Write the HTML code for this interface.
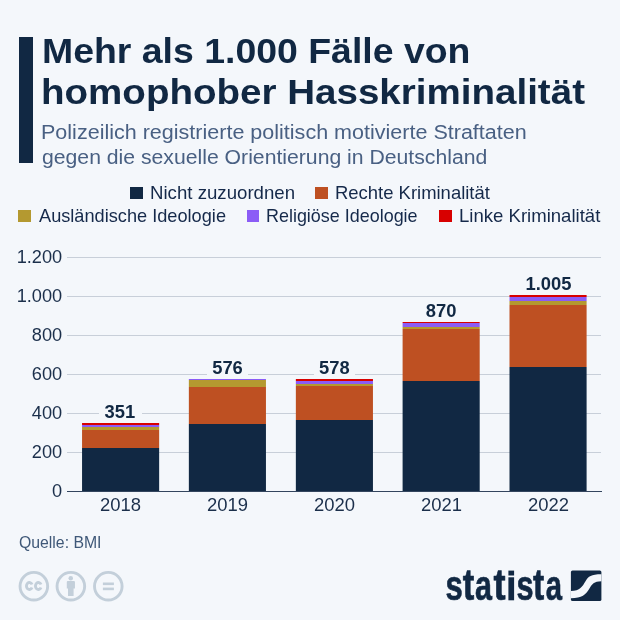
<!DOCTYPE html>
<html lang="de">
<head>
<meta charset="utf-8">
<title>Mehr als 1.000 Fälle von homophober Hasskriminalität</title>
<style>
  html, body { margin: 0; padding: 0; }
  body {
    width: 620px; height: 620px; overflow: hidden;
    background: #f4f7fb;
    font-family: "Liberation Sans", sans-serif;
    color: #112843;
    position: relative;
  }
  #wrap { position: absolute; left: 0; top: 0; width: 620px; height: 620px; overflow: hidden; will-change: transform; transform: translateZ(0); }
  .abs { position: absolute; white-space: nowrap; }
  .accent { left: 19px; top: 37px; width: 14px; height: 126px; background: #112843; }
  .title { left: 43px; font-weight: bold; font-size: 35px; line-height: 41px; color: #112843; transform-origin: 0 0; }
  .sub { left: 43px; font-size: 19.5px; line-height: 25px; color: #496083; transform-origin: 0 0; }
  .leg { font-size: 17.8px; line-height: 20px; color: #15294a; transform-origin: 0 0; }
  .sw { position: absolute; width: 12.9px; height: 12.4px; }
  .src { left: 19px; top: 532.6px; font-size: 16px; line-height: 20px; color: #3f5878; transform-origin: 0 0; }
</style>
</head>
<body>
<div id="wrap">

<div class="abs accent"></div>

<div class="abs title" id="t1" style="top:30px; left:41.6px; transform:scaleX(1.0691);">Mehr als 1.000 Fälle von</div>
<div class="abs title" id="t2" style="top:71px; left:41.2px; transform:scaleX(1.1012);">homophober Hasskriminalität</div>

<div class="abs sub" id="s1" style="top:119.6px; left:41.4px; transform:scaleX(1.1039);">Polizeilich registrierte politisch motivierte Straftaten</div>
<div class="abs sub" id="s2" style="top:144.8px; left:41.50px; transform:scaleX(1.0866);">gegen die sexuelle Orientierung in Deutschland</div>

<!-- legend -->
<div class="sw" style="left:129.7px; top:186.8px; background:#112843;"></div>
<div class="abs leg" id="l1" style="left:149.55px; top:182.7px; transform:scaleX(1.0482);">Nicht zuzuordnen</div>
<div class="sw" style="left:315.2px; top:186.8px; background:#be5022;"></div>
<div class="abs leg" id="l2" style="left:335.06px; top:182.7px; transform:scaleX(1.0378);">Rechte Kriminalität</div>

<div class="sw" style="left:18.4px; top:209.7px; background:#b49930;"></div>
<div class="abs leg" id="l3" style="left:38.7px; top:205.7px; transform:scaleX(1.0225);">Ausländische Ideologie</div>
<div class="sw" style="left:246.5px; top:209.7px; background:#8b5cf6;"></div>
<div class="abs leg" id="l4" style="left:265.79px; top:205.7px; transform:scaleX(1.0087);">Religiöse Ideologie</div>
<div class="sw" style="left:438.7px; top:209.7px; background:#d80000;"></div>
<div class="abs leg" id="l5" style="left:458.66px; top:205.7px; transform:scaleX(1.0437);">Linke Kriminalität</div>

<!-- chart -->
<svg class="abs" style="left:0; top:0;" width="620" height="620" viewBox="0 0 620 620">
  <g stroke="#c8cfd9" stroke-width="1" shape-rendering="crispEdges">
    <line x1="67" x2="601" y1="257.5" y2="257.5"/>
    <line x1="67" x2="601" y1="296.5" y2="296.5"/>
    <line x1="67" x2="601" y1="335.5" y2="335.5"/>
    <line x1="67" x2="601" y1="374.5" y2="374.5"/>
    <line x1="67" x2="601" y1="413.5" y2="413.5"/>
    <line x1="67" x2="601" y1="452.5" y2="452.5"/>
  </g>

  <!-- label masks -->
  <g fill="#f4f7fb">
    <rect x="99" y="400" width="43" height="20"/>
    <rect x="207" y="356" width="41" height="20"/>
    <rect x="314" y="356" width="41" height="20"/>
    <rect x="420" y="299" width="42" height="20"/>
    <rect x="519" y="272" width="58" height="20"/>
  </g>

  <!-- bars -->
  <g>
    <!-- 2018 -->
    <rect x="82.05" y="423" width="77.1" height="2" fill="#d80000"/>
    <rect x="82.05" y="425" width="77.1" height="2" fill="#8b5cf6"/>
    <rect x="82.05" y="427" width="77.1" height="3" fill="#b49930"/>
    <rect x="82.05" y="430" width="77.1" height="18" fill="#be5022"/>
    <rect x="82.05" y="448" width="77.1" height="43" fill="#112843"/>
    <!-- 2019 -->
    <rect x="188.85" y="379" width="77.1" height="1" fill="#8b5cf6"/>
    <rect x="188.85" y="380" width="77.1" height="7" fill="#b49930"/>
    <rect x="188.85" y="387" width="77.1" height="37" fill="#be5022"/>
    <rect x="188.85" y="424" width="77.1" height="67" fill="#112843"/>
    <!-- 2020 -->
    <rect x="295.85" y="379" width="77.1" height="2" fill="#d80000"/>
    <rect x="295.85" y="381" width="77.1" height="3" fill="#8b5cf6"/>
    <rect x="295.85" y="384" width="77.1" height="2" fill="#b49930"/>
    <rect x="295.85" y="386" width="77.1" height="34" fill="#be5022"/>
    <rect x="295.85" y="420" width="77.1" height="71" fill="#112843"/>
    <!-- 2021 -->
    <rect x="402.6" y="322" width="77.1" height="1" fill="#d80000"/>
    <rect x="402.6" y="323" width="77.1" height="4" fill="#8b5cf6"/>
    <rect x="402.6" y="327" width="77.1" height="2" fill="#b49930"/>
    <rect x="402.6" y="329" width="77.1" height="52" fill="#be5022"/>
    <rect x="402.6" y="381" width="77.1" height="110" fill="#112843"/>
    <!-- 2022 -->
    <rect x="509.5" y="295" width="77.1" height="2" fill="#d80000"/>
    <rect x="509.5" y="297" width="77.1" height="4" fill="#8b5cf6"/>
    <rect x="509.5" y="301" width="77.1" height="4" fill="#b49930"/>
    <rect x="509.5" y="305" width="77.1" height="62" fill="#be5022"/>
    <rect x="509.5" y="367" width="77.1" height="124" fill="#112843"/>
  </g>

  <!-- axis -->
  <line x1="67" x2="601.8" y1="491.5" y2="491.5" stroke="#33455e" stroke-width="1" shape-rendering="crispEdges"/>

  <!-- y labels -->
  <g font-family="Liberation Sans, sans-serif" font-size="17.5" fill="#1b2f4b" text-anchor="end" transform="translate(62.2,0) scale(1.04,1) translate(-62.2,0)">
    <text x="62.2" y="263">1.200</text>
    <text x="62.2" y="302">1.000</text>
    <text x="62.2" y="341">800</text>
    <text x="62.2" y="380">600</text>
    <text x="62.2" y="419">400</text>
    <text x="62.2" y="458">200</text>
    <text x="62.2" y="497">0</text>
  </g>
  <!-- x labels -->
  <g font-family="Liberation Sans, sans-serif" font-size="17.5" fill="#1b2f4b" text-anchor="middle">
    <text x="0" y="511" transform="translate(120.5,0) scale(1.054,1)">2018</text>
    <text x="0" y="511" transform="translate(227.5,0) scale(1.054,1)">2019</text>
    <text x="0" y="511" transform="translate(334.5,0) scale(1.054,1)">2020</text>
    <text x="0" y="511" transform="translate(441.5,0) scale(1.054,1)">2021</text>
    <text x="0" y="511" transform="translate(548.5,0) scale(1.054,1)">2022</text>
  </g>
  <!-- value labels -->
  <g font-family="Liberation Sans, sans-serif" font-size="17.5" font-weight="bold" fill="#112843" text-anchor="middle">
    <text x="0" y="417.9" transform="translate(119.9,0) scale(1.05,1)">351</text>
    <text x="0" y="374" transform="translate(227.5,0) scale(1.05,1)">576</text>
    <text x="0" y="374" transform="translate(334.4,0) scale(1.05,1)">578</text>
    <text x="0" y="317" transform="translate(441.2,0) scale(1.05,1)">870</text>
    <text x="0" y="290" transform="translate(548.5,0) scale(1.05,1)">1.005</text>
  </g>

  <!-- CC icons -->
  <g fill="none" stroke="#c3cfda" stroke-width="2.9">
    <circle cx="33.85" cy="586.2" r="13.8"/>
    <circle cx="70.85" cy="586.2" r="13.8"/>
    <circle cx="108.3" cy="586.2" r="13.8"/>
  </g>
  <g fill="none" stroke="#c3cfda" stroke-width="2.9">
    <path d="M32.00 584.60 A2.9 3.45 0 1 0 32.00 587.40"/>
    <path d="M41.00 584.60 A2.9 3.45 0 1 0 41.00 587.40"/>
  </g>
  <g fill="#c3cfda">
    <circle cx="70.75" cy="578.2" r="2.25"/>
    <path d="M66.8 582.1 a1 1 0 0 1 1 -1 h6.15 a1 1 0 0 1 1 1 v6.5 h-1.35 v7.3 h-5.6 v-7.3 h-1.2 z"/>
    <rect x="102.9" y="582.5" width="11" height="2.6"/>
    <rect x="102.9" y="587.6" width="11" height="2.6"/>
  </g>

  <!-- statista -->
  <g font-family="Liberation Sans, sans-serif" font-weight="bold" font-size="43" fill="#112843" stroke="#112843" stroke-width="0.7" stroke-linejoin="round">
      <text x="0" y="0" transform="translate(445.61,600.3) scale(0.7220,1.0)">s</text>
      <text x="0" y="0" transform="translate(462.68,600.3) scale(0.8063,1.04)">t</text>
      <text x="0" y="0" transform="translate(475.11,600.3) scale(0.7089,1.0)">a</text>
      <text x="0" y="0" transform="translate(493.46,600.3) scale(0.8440,1.04)">t</text>
      <text x="0" y="0" transform="translate(516.52,600.3) scale(0.7124,1.0)">s</text>
      <text x="0" y="0" transform="translate(533.09,600.3) scale(0.7837,1.04)">t</text>
      <text x="0" y="0" transform="translate(545.74,600.3) scale(0.6795,1.0)">a</text>
      <rect x="508.4" y="570.6" width="5.7" height="4.9" stroke="none"/>
    <rect x="508.4" y="577.3" width="5.7" height="23" stroke="none"/>
    </g>
  <g>
    <rect x="570.9" y="570.5" width="30.5" height="30.5" rx="1.6" fill="#112843"/>
    <path d="M570.9 591 C580 591 582.5 586.2 585.5 581.2 C588.5 576.2 591 574.2 601.4 574.2 L601.4 581.3 C594 581.3 592 584.2 589 589.2 C586 594.2 582 598.2 570.9 598.2 Z" fill="#f4f7fb"/>
  </g>
</svg>

<div class="abs src" id="src" style="transform:scaleX(0.987);">Quelle: BMI</div>

</div>
</body>
</html>
